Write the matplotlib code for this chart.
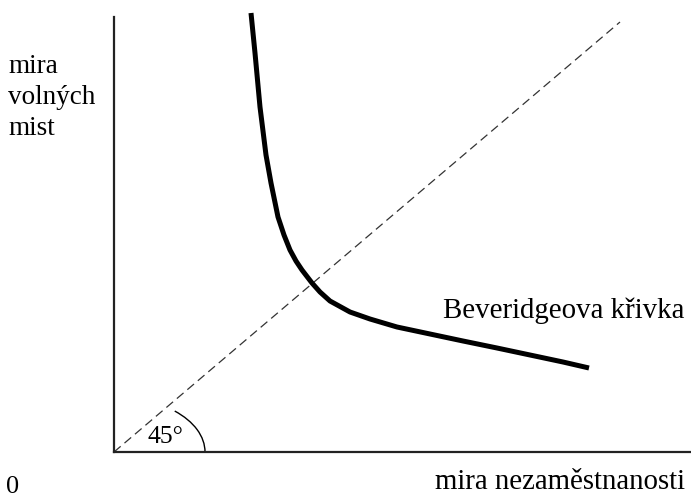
import matplotlib
matplotlib.use("Agg")
import matplotlib.pyplot as plt
from matplotlib.patches import Arc

plt.rcParams['font.family'] = ['Liberation Serif', 'DejaVu Serif']

# Beveridge curve (unemployment rate vs. vacancy rate), arbitrary units
unemployment = [137, 141, 146, 152, 157, 164, 170, 176, 182, 188, 198,
                206, 216, 236, 256, 283, 316, 349, 383, 416, 449, 475]
vacancies = [439, 399, 345, 297, 269, 235, 217, 202, 191, 182, 169,
             160, 151, 140, 133, 125, 118, 111, 104, 97, 90, 84]

# 45-degree reference line
diag_x = [0, 506]
diag_y = [0, 430]

fig = plt.figure(figsize=(6.91, 4.97), dpi=100)
ax = fig.add_axes([114 / 691, 45 / 497, 577 / 691, 435 / 497])
ax.set_xlim(0, 577)
ax.set_ylim(0, 435)

for side in ['top', 'right']:
    ax.spines[side].set_visible(False)
for side in ['left', 'bottom']:
    ax.spines[side].set_linewidth(1.6)
    ax.spines[side].set_color('#222222')
ax.set_xticks([])
ax.set_yticks([])

ax.plot(diag_x, diag_y, color='#333333', lw=0.9, dashes=(7, 4),
        clip_on=False)
ax.plot(unemployment, vacancies, color='black', lw=3.6,
        solid_capstyle='butt', solid_joinstyle='round', clip_on=False)

# angle marker
ax.add_patch(Arc((0, 0), 182, 110, theta1=0, theta2=34,
                 color='black', lw=1.0))
ax.text(34, 9, '45°', fontsize=18.5, ha='left', va='baseline')

ax.text(329, 134, 'Beveridgeova křivka', fontsize=20.8, ha='left',
        va='baseline')

fig.text(8 / 691, 1 - 54 / 497, 'mira\nvolných\nmist', fontsize=19.5,
         ha='left', va='top', linespacing=1.32)
fig.text(6 / 691, 1 - 493 / 497, '0', fontsize=19, ha='left',
         va='baseline')
fig.text(685 / 691, 1 - 489 / 497, 'mira nezaměstnanosti', fontsize=20.8,
         ha='right', va='baseline')

fig.savefig('out.png', dpi=100)
